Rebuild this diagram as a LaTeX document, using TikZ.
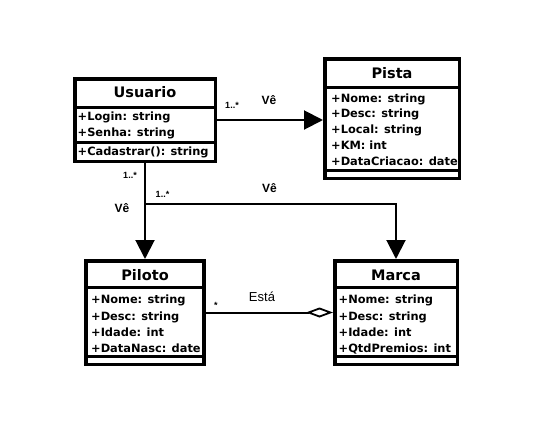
\documentclass[tikz,border=0pt]{standalone}
\usepackage{fontspec}
\setmainfont{DejaVu Sans}
\newfontfamily\lblfont{Liberation Sans}
\usetikzlibrary{arrows.meta}
\begin{document}
\begin{tikzpicture}[x=1pt,y=-1pt,
  classbox/.style={draw, line width=3.5pt, fill=white, inner sep=0pt},
  titletext/.style={font=\bfseries\fontsize{14.5}{16}\selectfont, inner sep=0pt},
  attr/.style={font=\bfseries\fontsize{11.4}{14}\selectfont, inner sep=0pt, anchor=base west},
  sepline/.style={line width=3pt},
  assoc/.style={line width=2pt, -{Triangle[length=19pt,width=19pt]}},
  aggr/.style={line width=2pt, -{Diamond[open,length=27pt,width=10pt,line width=1.8pt]}},
  rolelbl/.style={font=\lblfont\bfseries\fontsize{12}{14}\selectfont, inner sep=0pt},
  aggrlbl/.style={font=\lblfont\fontsize{13}{15}\selectfont, inner sep=0pt},
  mult/.style={font=\lblfont\bfseries\fontsize{9}{10}\selectfont, inner sep=0pt}]
\fill[white] (0,0) rectangle (542,426);
\useasboundingbox (0,0) rectangle (542,426);

% class boxes
\node[classbox, minimum width=140.5pt, minimum height=82.5pt] (usuario) at (145,120) {};
\node[classbox, minimum width=134.5pt, minimum height=119.5pt] (pista) at (392,118.5) {};
\node[classbox, minimum width=118pt, minimum height=103.5pt] (piloto) at (144.75,312.5) {};
\node[classbox, minimum width=122.5pt, minimum height=103.5pt] (marca) at (396,312.5) {};

% separators
\draw[sepline] (usuario.west |- 0,107) -- (usuario.east |- 0,107);
\draw[sepline] (usuario.west |- 0,142) -- (usuario.east |- 0,142);
\draw[sepline] (pista.west |- 0,87) -- (pista.east |- 0,87);
\draw[sepline] (pista.west |- 0,170.5) -- (pista.east |- 0,170.5);
\draw[sepline] (piloto.west |- 0,287) -- (piloto.east |- 0,287);
\draw[sepline] (piloto.west |- 0,356.5) -- (piloto.east |- 0,356.5);
\draw[sepline] (marca.west |- 0,287) -- (marca.east |- 0,287);
\draw[sepline] (marca.west |- 0,356.5) -- (marca.east |- 0,356.5);

% titles
\node[titletext] (tu) at (145,92) {Usuario};
\node[titletext] (tp) at (392,73) {Pista};
\node[titletext] (tpi) at (145,275) {Piloto};
\node[titletext] (tm) at (396,275) {Marca};

% Usuario
\node[attr] (u1) at (77.5,120) {+Login: string};
\node[attr] (u2) at (77.5,136) {+Senha: string};
\node[attr] (u3) at (77.5,155) {+Cadastrar(): string};
% Pista
\node[attr] (p1) at (331,102) {+Nome: string};
\node[attr] (p2) at (331,117.8) {+Desc: string};
\node[attr] (p3) at (331,133.6) {+Local: string};
\node[attr] (p4) at (331,149.4) {+KM: int};
\node[attr] (p5) at (331,165.2) {+DataCriacao: date};
% Piloto
\node[attr] (pi1) at (91,303) {+Nome: string};
\node[attr] (pi2) at (91,320) {+Desc: string};
\node[attr] (pi3) at (91,336) {+Idade: int};
\node[attr] (pi4) at (91,352) {+DataNasc: date};
% Marca
\node[attr] (m1) at (338.5,303) {+Nome: string};
\node[attr] (m2) at (338.5,320) {+Desc: string};
\node[attr] (m3) at (338.5,336) {+Idade: int};
\node[attr] (m4) at (338.5,352) {+QtdPremios: int};

% connectors
\draw[assoc] (usuario.east) -- (usuario.east -| pista.west);
\draw[assoc] (usuario.south) -- (usuario.south |- piloto.north);
\coordinate (br) at (usuario.south |- 0,204);
\draw[assoc] (br) -| (marca.north);
\draw[aggr] (piloto.east) -- (marca.west);

% labels
\node[mult] (l1) at (232,105) {1..*};
\node[rolelbl] (l2) at (269,100) {Vê};
\node[mult] (l3) at (130,175) {1..*};
\node[mult] (l4) at (162.5,194) {1..*};
\node[rolelbl] (l5) at (122,208) {Vê};
\node[rolelbl] (l6) at (269.5,188) {Vê};
\node[aggrlbl] (l7) at (262,297) {Está};
\node[mult] (l8) at (216,305) {*};
\end{tikzpicture}
\end{document}
